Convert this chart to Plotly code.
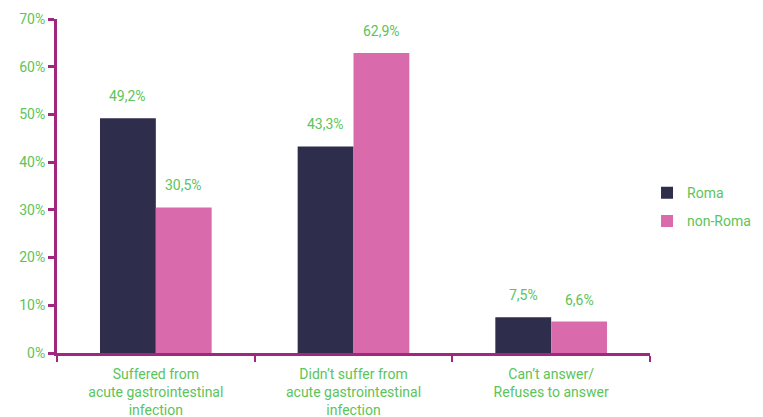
import plotly.graph_objects as go

categories = ["Suffered from<br>acute gastrointestinal<br>infection",
              "Didn’t suffer from<br>acute gastrointestinal<br>infection",
              "Can’t answer/<br>Refuses to answer"]
roma = [49.2, 43.3, 7.5]
non_roma = [30.5, 62.9, 6.6]
y_ticks = [0, 10, 20, 30, 40, 50, 60, 70]

green = "#5BC45A"
axis_col = "#A0267E"
font_family = "Roboto"

def lab(v):
    return f"{v:.1f}%".replace(".", ",")

fig = go.Figure()
fig.add_trace(go.Bar(name="Roma", x=categories, y=roma, marker_color="#2E2D4C",
                     marker_line_width=0, offsetgroup="a", legendgroup="a"))
fig.add_trace(go.Bar(name="non-Roma", x=categories, y=non_roma, marker_color="#D96BAD",
                     marker_line_width=0, offsetgroup="b", legendgroup="b"))

# value labels above bars (x shifted to each bar's center)
bar_px = 56
for i, c in enumerate(categories):
    for vals, sh in ((roma, -bar_px / 2), (non_roma, bar_px / 2)):
        fig.add_annotation(x=c, y=vals[i], text=lab(vals[i]), showarrow=False,
                           xshift=sh, yshift=22, yanchor="middle",
                           font=dict(size=14, color=green, family=font_family))

fig.update_layout(
    width=763, height=417,
    margin=dict(l=57, r=113, t=19, b=64, autoexpand=False),
    paper_bgcolor="white", plot_bgcolor="white",
    barmode="group", bargap=0.435, bargroupgap=0,
    font=dict(family=font_family, color=green, size=14),
    showlegend=True,
    legend=dict(xref="container", yref="container", x=0.848, y=0.575,
                yanchor="top", xanchor="left",
                font=dict(size=14, color=green), itemwidth=30,
                tracegroupgap=7),
)
fig.update_xaxes(showline=True, linecolor=axis_col, linewidth=3,
                 ticks="outside", tickson="boundaries", tickcolor=axis_col,
                 tickwidth=2, ticklen=6, tickfont=dict(size=14, color=green),
                 ticklabelstandoff=6, showgrid=False)
fig.update_yaxes(range=[0, 70], tickvals=y_ticks, ticktext=[f"{v}%" for v in y_ticks],
                 showline=True, linecolor=axis_col, linewidth=3,
                 ticks="outside", tickcolor=axis_col, tickwidth=3, ticklen=6,
                 tickfont=dict(size=14, color=green), showgrid=False, zeroline=False)

fig.write_html("out.html")
